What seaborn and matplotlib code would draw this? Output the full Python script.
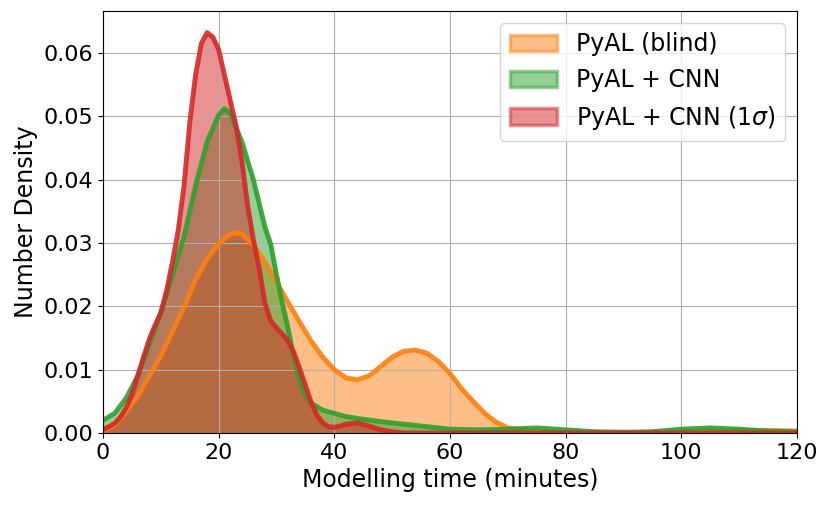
import matplotlib
matplotlib.use("Agg")
import matplotlib.pyplot as plt
import seaborn as sns
import pandas as pd
from matplotlib.patches import Patch

# ---- data ----
blind_x = [0, 2, 4, 6, 8, 10, 12, 14, 16, 18,
           20, 22, 23, 24, 26, 28, 30, 32, 34, 36,
           38, 40, 42, 44, 46, 48, 50, 52, 54, 56,
           58, 60, 62, 64, 66, 68, 70, 75, 80, 85,
           90, 95, 100, 105, 110, 115, 120]
blind_y = [0.0003, 0.0012, 0.0034, 0.0058, 0.0090, 0.0122, 0.0160, 0.0199, 0.0242, 0.0275,
           0.0299, 0.0314, 0.0316, 0.0314, 0.0297, 0.0270, 0.0238, 0.0206, 0.0175, 0.0145,
           0.0120, 0.0100, 0.0087, 0.0084, 0.0090, 0.0105, 0.0120, 0.0129, 0.0131, 0.0126,
           0.0113, 0.0094, 0.0070, 0.0050, 0.0031, 0.0017, 0.0008, 0.0002, 0.0001, 0.0001,
           0.0001, 0.0001, 0.0002, 0.0003, 0.0004, 0.0004, 0.0003]

cnn_x = [0, 2, 4, 6, 8, 10, 12, 14, 16, 18,
         20, 21, 22, 24, 26, 28, 29, 30, 31, 32,
         33, 34, 35, 36, 38, 40, 42, 44, 48, 52,
         56, 60, 65, 70, 75, 80, 85, 90, 95, 100,
         105, 110, 115, 120]
cnn_y = [0.0020, 0.0031, 0.0055, 0.0090, 0.0140, 0.0190, 0.0250, 0.0310, 0.0390, 0.0460,
         0.0502, 0.0512, 0.0505, 0.0460, 0.0400, 0.0325, 0.0298, 0.0250, 0.0205, 0.0165,
         0.0120, 0.0085, 0.0058, 0.0047, 0.0036, 0.0031, 0.0026, 0.0023, 0.0018, 0.0014,
         0.0010, 0.0006, 0.0005, 0.0006, 0.0008, 0.0005, 0.0002, 0.0001, 0.0002, 0.0006,
         0.0008, 0.0006, 0.0003, 0.0002]

sig_x = [0, 2, 3, 4, 5, 6, 7, 8, 9, 10,
         11, 12, 13, 14, 15, 16, 17, 18, 19, 20,
         21, 22, 23, 24, 25, 26, 27, 28, 29, 30,
         31, 32, 33, 34, 35, 36, 37, 38, 39, 40,
         41, 42, 44, 46, 48, 50, 52, 60, 80, 100,
         120]
sig_y = [0.0005, 0.0015, 0.0025, 0.0040, 0.0060, 0.0090, 0.0120, 0.0148, 0.0170, 0.0190,
         0.0225, 0.0270, 0.0320, 0.0390, 0.0490, 0.0565, 0.0615, 0.0632, 0.0625, 0.0605,
         0.0565, 0.0525, 0.0485, 0.0430, 0.0360, 0.0305, 0.0260, 0.0205, 0.0177, 0.0166,
         0.0156, 0.0145, 0.0127, 0.0102, 0.0075, 0.0048, 0.0028, 0.0016, 0.0010, 0.0009,
         0.0011, 0.0014, 0.0016, 0.0011, 0.0005, 0.0002, 0.0000, 0.0000, 0.0000, 0.0000,
         0.0000]

labels = ["PyAL (blind)", "PyAL + CNN", r"PyAL + CNN (1$\sigma$)"]
colors = ["tab:orange", "tab:green", "tab:red"]

series = [(blind_x, blind_y), (cnn_x, cnn_y), (sig_x, sig_y)]

fig = plt.figure(figsize=(8.31, 5.07), dpi=100)
ax = fig.add_axes([0.124, 0.146, 0.835, 0.832])

for (xs, ys), lab, col in zip(series, labels, colors):
    df = pd.DataFrame({"x": xs, "y": ys})
    ax.fill_between(df["x"], df["y"], 0, color=col, alpha=0.5, linewidth=0)
    sns.lineplot(data=df, x="x", y="y", ax=ax, color=col, linewidth=3.5, alpha=0.9)

ax.set_xlim(0, 120)
ax.set_ylim(0, 0.0666)
ax.set_yticks([0.0, 0.01, 0.02, 0.03, 0.04, 0.05, 0.06])
ax.set_xticks([0, 20, 40, 60, 80, 100, 120])
ax.grid(True)
ax.tick_params(labelsize=16)
ax.set_xlabel("Modelling time (minutes)", fontsize=17)
ax.set_ylabel("Number Density", fontsize=17)

handles = [Patch(facecolor=c, edgecolor=c, alpha=0.5, linewidth=2.5) for c in colors]
ax.legend(handles, labels, loc="upper right", fontsize=17)

fig.savefig("out.png", dpi=100)
